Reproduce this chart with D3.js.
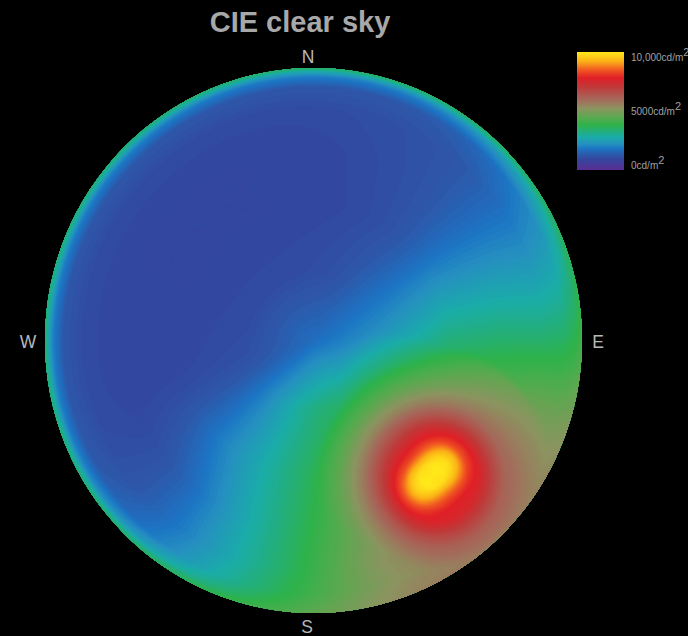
<!DOCTYPE html>
<html>
<head>
<meta charset="utf-8">
<script src="https://cdn.jsdelivr.net/npm/d3@7"></script>
<style>
html,body{margin:0;padding:0;background:#000;overflow:hidden}
svg{display:block}
</style>
</head>
<body>
<svg id="chart" width="688" height="636"></svg>
<script>
const title = "CIE clear sky";
const compassLabels = ["N", "E", "S", "W"];
const legendTicks = [0, 50, 100];
const legendTickLabels = ["0cd/m", "5000cd/m", "10,000cd/m"];

// Colour key (percent of the 10,000 cd/m2 range)
const keyStops = [0, 9, 13, 18, 22, 28, 38, 45, 52, 60, 70, 78, 85, 92, 100];
const keyColors = ["#5b2d91", "#33469f", "#2d58aa", "#1c75c4", "#2590c0", "#1aaca8", "#2eb24a", "#5da850", "#8b9460",
  "#a5685a", "#bf3a3a", "#e01f26", "#f15a22", "#fbb017", "#ffe81a"];

// Sky dome: luminance (% of range) read along rays from the zenith, clockwise from N
const ringRadii = [0, 0.25, 0.5, 0.7, 0.85, 0.93, 0.97, 0.99, 1];
const rayN   = [17, 11, 9.5, 9.5, 10.5, 13, 20, 29, 36];
const rayNNE = [17, 12, 10.5, 11, 11.5, 13, 20, 29, 37];
const rayNE  = [17, 16, 13, 13, 13, 16, 23, 30, 37];
const rayENE = [17, 20, 24, 23, 22, 24, 29, 33, 37];
const rayE   = [17, 24, 33, 34, 33, 34, 36, 38, 40];
const rayESE = [17, 29, 44, 50, 55, 54, 54, 54, 55];
const raySE  = [17, 33, 45, 56, 56, 55, 56, 57, 58];
const raySSE = [17, 35, 47, 55, 58, 56, 57, 57, 58];
const rayS   = [17, 33, 37, 38, 39, 41, 43, 44, 45];
const raySSW = [17, 27, 28, 27, 27, 29, 33, 36, 38];
const raySW  = [17, 19, 19, 13, 13, 15, 22, 30, 36];
const rayWSW = [17, 12, 10, 9.5, 10.5, 13, 20, 29, 35];
const rayW   = [17, 11, 9.5, 9.5, 10.5, 13, 20, 29, 35];
const rayWNW = [17, 10.5, 9.5, 9.5, 10.5, 13, 20, 29, 35];
const rayNW  = [17, 10.5, 9.5, 9.5, 10.5, 13, 20, 29, 35];
const rayNNW = [17, 10.5, 9.5, 9.5, 10.5, 13, 20, 29, 36];
const skyRays = [rayN, rayNNE, rayNE, rayENE, rayE, rayESE, raySE, raySSE, rayS, raySSW, raySW, rayWSW, rayW, rayWNW, rayNW, rayNNW];

// Sun glare: luminance read along rays from the solar disc, clockwise from N
const sunRadii = [0, 12, 20, 28, 36, 48, 60, 72, 90, 120, 150, 190];
const sunN  = [100, 100, 96, 88, 81, 74, 65, 57, 47, 35, 25, 0];
const sunNE = [100, 100, 100, 96, 86, 76, 67, 60, 55, 50, 30, 0];
const sunE  = [100, 100, 96, 88, 81, 76, 68, 61, 58, 52, 35, 0];
const sunSE = [100, 98, 88, 81, 77, 75, 69, 63, 58, 54, 35, 0];
const sunS  = [100, 100, 93, 86, 80, 77, 68, 62, 57, 50, 35, 0];
const sunSW = [100, 100, 99, 93, 84, 72, 63, 57, 50, 42, 28, 0];
const sunW  = [100, 100, 95, 85, 79, 70, 62, 55, 46, 36, 26, 0];
const sunNW = [100, 98, 88, 80, 76, 69, 62, 55, 46, 32, 22, 0];
const sunRays = [sunN, sunNE, sunE, sunSE, sunS, sunSW, sunW, sunNW];

const disc = {cx: 313.5, cy: 340.5, rx: 268.5, ry: 272.5};
const sun = {x: 432, y: 476};
const step = 2;

const svg = d3.select("#chart");
svg.append("rect").attr("width", 688).attr("height", 636).attr("fill", "#000");

const color = d3.scaleLinear().domain(keyStops).range(keyColors).clamp(true);

// One closed spline per ring, so each ring runs smoothly around the compass
function ringFunctions(rays, n) {
  return d3.range(n).map(j => d3.interpolateBasisClosed(rays.map(r => r[j])));
}
const skyRings = ringFunctions(skyRays, ringRadii.length);
const sunRings = ringFunctions(sunRays, sunRadii.length);
const skyRingIndex = d3.scaleLinear().domain(ringRadii).range(d3.range(ringRadii.length)).clamp(true);
const sunRingIndex = d3.scaleLinear().domain(sunRadii).range(d3.range(sunRadii.length)).clamp(true);

function sample(rings, idx, r, frac) {
  const p = idx(r), i = Math.min(Math.floor(p), rings.length - 2), t = p - i;
  const f = ((frac % 1) + 1) % 1;
  return rings[i](f) * (1 - t) + rings[i + 1](f) * t;
}

const x0 = disc.cx - disc.rx - 6, y0 = disc.cy - disc.ry - 6;
const nx = Math.ceil((2 * disc.rx + 12) / step), ny = Math.ceil((2 * disc.ry + 12) / step);
const field = new Float64Array(nx * ny);
for (let j = 0; j < ny; j++) {
  for (let i = 0; i < nx; i++) {
    const px = x0 + i * step, py = y0 + j * step;
    const u = (px - disc.cx) / disc.rx, v = (py - disc.cy) / disc.ry;
    const skyVal = sample(skyRings, skyRingIndex, Math.hypot(u, v), Math.atan2(u, -v) / (2 * Math.PI));
    const sx = px - sun.x, sy = py - sun.y;
    const sunVal = sample(sunRings, sunRingIndex, Math.hypot(sx, sy), Math.atan2(sx, -sy) / (2 * Math.PI));
    field[j * nx + i] = Math.max(skyVal, sunVal);
  }
}

const levels = d3.range(6, 100.5, 0.7);
const bands = d3.contours().size([nx, ny]).thresholds(levels)(field);
const path = d3.geoPath(d3.geoIdentity().scale(step).translate([x0 - step / 2, y0 - step / 2]));

const defs = svg.append("defs");
defs.append("clipPath").attr("id", "dome").append("ellipse")
  .attr("cx", disc.cx).attr("cy", disc.cy).attr("rx", disc.rx).attr("ry", disc.ry);

svg.append("g").attr("clip-path", "url(#dome)")
  .selectAll("path").data(bands).join("path")
  .attr("d", path)
  .attr("fill-rule", "evenodd")
  .attr("fill", d => color(d.value));

// Title and compass
const labelFont = "'Liberation Sans', Arial, sans-serif";
svg.append("text").attr("x", 300).attr("y", 32).attr("text-anchor", "middle")
  .attr("font-family", labelFont).attr("font-weight", "bold").attr("font-size", 29)
  .attr("fill", "#a8a8a8").text(title);

const compassPos = [[308, 63], [598, 348], [307, 633], [28, 348]];
svg.append("g").selectAll("text").data(compassLabels).join("text")
  .attr("x", (d, i) => compassPos[i][0]).attr("y", (d, i) => compassPos[i][1])
  .attr("text-anchor", "middle").attr("font-family", labelFont)
  .attr("font-size", 17.5).attr("fill", "#b8b8b8").text(d => d);

// Legend
const grad = defs.append("linearGradient").attr("id", "key")
  .attr("x1", 0).attr("x2", 0).attr("y1", 1).attr("y2", 0);
grad.selectAll("stop").data(keyStops).join("stop")
  .attr("offset", d => d / 100).attr("stop-color", d => color(d));

const legendY = d3.scaleLinear().domain([0, 100]).range([170, 52]);
svg.append("rect").attr("x", 577).attr("width", 47)
  .attr("y", legendY(100)).attr("height", legendY(0) - legendY(100)).attr("fill", "url(#key)");

const tickY = d3.scaleLinear().domain([0, 100]).range([169, 61]);
const tickText = svg.append("g").selectAll("text").data(legendTicks).join("text")
  .attr("x", 631).attr("y", d => tickY(d))
  .attr("font-family", labelFont).attr("font-size", 10).attr("fill", "#a0a0a0");
tickText.append("tspan").text((d, i) => legendTickLabels[i]);
tickText.append("tspan").attr("dy", -5).attr("font-size", 11).text("2");
</script>
</body>
</html>
